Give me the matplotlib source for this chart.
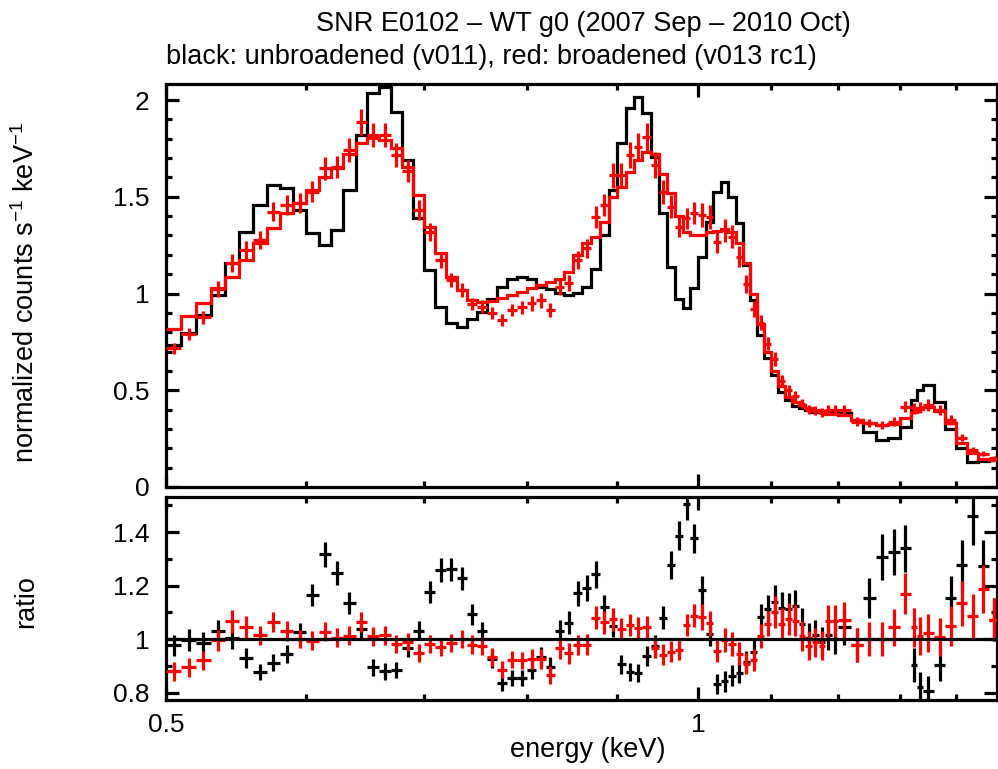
import numpy as np
import matplotlib
matplotlib.use("Agg")
import matplotlib.pyplot as plt
from matplotlib.ticker import FixedLocator, NullFormatter

# energy bin edges (keV)
bin_edges = [0.50, 0.51, 0.52, 0.53, 0.54, 0.55, 0.56, 0.57, 0.58, 0.59,
             0.60, 0.61, 0.62, 0.63, 0.64, 0.65, 0.66, 0.67, 0.68, 0.69,
             0.70, 0.71, 0.72, 0.73, 0.74, 0.75, 0.76, 0.77, 0.78, 0.79,
             0.80, 0.81, 0.82, 0.83, 0.84, 0.85, 0.86, 0.87, 0.88, 0.89,
             0.90, 0.91, 0.92, 0.93, 0.94, 0.95, 0.96, 0.97, 0.98, 0.99,
             1.00, 1.01, 1.02, 1.03, 1.04, 1.05, 1.06, 1.07, 1.08, 1.09,
             1.10, 1.11, 1.12, 1.13, 1.14, 1.15, 1.16, 1.17, 1.18, 1.19,
             1.20, 1.22, 1.24, 1.26, 1.28, 1.30, 1.32, 1.33, 1.34, 1.36,
             1.38, 1.40, 1.42, 1.44, 1.46, 1.48]

# observed spectrum (normalized counts s^-1 keV^-1)
data_counts = [0.717, 0.791, 0.877, 1.022, 1.159, 1.225, 1.277, 1.423, 1.457, 1.469,
               1.526, 1.647, 1.655, 1.742, 1.888, 1.819, 1.819, 1.716, 1.635, 1.432,
               1.320, 1.173, 1.070, 1.018, 0.946, 0.932, 0.898, 0.863, 0.915, 0.929,
               0.949, 0.966, 0.915, 1.035, 1.053, 1.173, 1.233, 1.397, 1.457, 1.612,
               1.612, 1.716, 1.759, 1.811, 1.664, 1.526, 1.449, 1.345, 1.388, 1.414,
               1.406, 1.397, 1.268, 1.328, 1.294, 1.190, 1.050, 0.920, 0.850, 0.740,
               0.660, 0.550, 0.500, 0.470, 0.430, 0.400, 0.395, 0.385, 0.400, 0.400,
               0.398, 0.338, 0.329, 0.320, 0.338, 0.415, 0.407, 0.410, 0.424, 0.398,
               0.346, 0.255, 0.190, 0.172, 0.150]

# fractional 1-sigma error on the data
data_rel_err = [0.04, 0.04, 0.04, 0.04, 0.04, 0.04, 0.035, 0.035, 0.035, 0.035,
                0.035, 0.035, 0.035, 0.035, 0.035, 0.035, 0.035, 0.035, 0.035, 0.035,
                0.035, 0.035, 0.035, 0.035, 0.035, 0.035, 0.035, 0.035, 0.035, 0.035,
                0.04, 0.04, 0.04, 0.04, 0.04, 0.04, 0.04, 0.04, 0.04, 0.04,
                0.04, 0.04, 0.04, 0.04, 0.04, 0.04, 0.04, 0.04, 0.04, 0.04,
                0.045, 0.045, 0.045, 0.045, 0.045, 0.045, 0.045, 0.045, 0.045, 0.045,
                0.055, 0.055, 0.055, 0.055, 0.055, 0.055, 0.055, 0.055, 0.055, 0.055,
                0.065, 0.065, 0.065, 0.065, 0.065, 0.065, 0.07, 0.07, 0.07, 0.07,
                0.07, 0.075, 0.075, 0.075, 0.075]

# model folded with the unbroadened response (v011)
black_model = [0.734, 0.794, 0.889, 0.992, 1.156, 1.320, 1.457, 1.561, 1.543, 1.432,
               1.311, 1.251, 1.328, 1.535, 1.819, 2.034, 2.069, 1.940, 1.690, 1.388,
               1.121, 0.932, 0.849, 0.829, 0.866, 0.906, 0.970, 1.035, 1.073, 1.087,
               1.073, 1.035, 1.022, 1.004, 0.992, 1.001, 1.035, 1.125, 1.302, 1.535,
               1.780, 1.957, 2.014, 1.935, 1.707, 1.414, 1.135, 0.970, 0.923, 1.027,
               1.190, 1.371, 1.526, 1.578, 1.500, 1.363, 1.147, 0.966, 0.786, 0.665,
               0.579, 0.493, 0.450, 0.419, 0.407, 0.398, 0.389, 0.389, 0.394, 0.400,
               0.381, 0.346, 0.285, 0.245, 0.255, 0.310, 0.450, 0.500, 0.527, 0.440,
               0.300, 0.200, 0.130, 0.135, 0.140]

# model folded with the broadened response (v013 rc1)
red_model = [0.815, 0.884, 0.953, 1.027, 1.087, 1.173, 1.259, 1.337, 1.414, 1.469,
             1.535, 1.604, 1.647, 1.721, 1.776, 1.802, 1.793, 1.750, 1.652, 1.509,
             1.345, 1.208, 1.087, 1.018, 0.966, 0.958, 0.963, 0.975, 0.992, 1.009,
             1.027, 1.044, 1.058, 1.073, 1.113, 1.200, 1.260, 1.294, 1.371, 1.500,
             1.552, 1.630, 1.690, 1.733, 1.720, 1.620, 1.520, 1.400, 1.320, 1.300,
             1.300, 1.320, 1.325, 1.332, 1.320, 1.259, 1.156, 1.000, 0.840, 0.700,
             0.600, 0.520, 0.465, 0.440, 0.425, 0.410, 0.400, 0.395, 0.375, 0.375,
             0.372, 0.346, 0.329, 0.320, 0.324, 0.355, 0.390, 0.405, 0.415, 0.395,
             0.330, 0.225, 0.175, 0.145, 0.140]

title = "SNR E0102 \u2013 WT g0 (2007 Sep \u2013 2010 Oct)"
subtitle = "black: unbroadened (v011), red: broadened (v013 rc1)"

plt.rcParams['font.family'] = ['Liberation Sans', 'DejaVu Sans']
plt.rcParams['mathtext.fontset'] = 'custom'
plt.rcParams['mathtext.rm'] = 'Liberation Sans'
plt.rcParams['mathtext.default'] = 'regular'
plt.rcParams['axes.linewidth'] = 2.3

FS = 19      # tick labels
FS_T = 19.5  # titles and axis labels
LW = 2.3

edges = np.array(bin_edges)
centers = 0.5 * (edges[:-1] + edges[1:])
half_w = 0.5 * np.diff(edges)
data = np.array(data_counts)
data_err = data * np.array(data_rel_err)
black = np.array(black_model)
red = np.array(red_model)

# ratio = data / model for each response
ratio_black = data / black
ratio_red = data / red
rel = np.array(data_rel_err)

W, H = 998, 769
fig = plt.figure(figsize=(W / 100, H / 100), dpi=100)
ax1 = fig.add_axes([166 / W, 1 - 487 / H, (997 - 166) / W, (487 - 84) / H])
ax2 = fig.add_axes([166 / W, 1 - 700 / H, (997 - 166) / W, (700 - 497) / H])

# top panel: spectrum and models
ax1.stairs(black, edges, color='black', lw=LW, baseline=None, zorder=2)
ax1.errorbar(centers, data, xerr=half_w, yerr=data_err, fmt='none',
             ecolor='red', elinewidth=LW, capsize=0, zorder=3)
ax1.stairs(red, edges, color='red', lw=LW, baseline=None, zorder=4)

# bottom panel: data / model
ax2.errorbar(centers, ratio_black, xerr=half_w, yerr=rel * ratio_black, fmt='none',
             ecolor='black', elinewidth=LW, capsize=0, zorder=2)
ax2.errorbar(centers, ratio_red, xerr=half_w, yerr=rel * ratio_red, fmt='none',
             ecolor='red', elinewidth=LW, capsize=0, zorder=3)
ax2.axhline(1.0, color='black', lw=LW, zorder=4)

for ax in (ax1, ax2):
    ax.set_xscale('log')
    ax.set_xlim(0.5, 1.476)
    ax.xaxis.set_major_locator(FixedLocator([0.5, 1.0]))
    ax.xaxis.set_minor_locator(FixedLocator([0.6, 0.7, 0.8, 0.9, 1.1, 1.2, 1.3, 1.4]))
    ax.xaxis.set_minor_formatter(NullFormatter())
    ax.tick_params(which='both', direction='in', top=True, right=True,
                   width=LW, labelsize=FS)
    ax.tick_params(which='major', length=9.5)
    ax.tick_params(which='minor', length=4.5)
    ax.tick_params(axis='y', pad=12)
    ax.tick_params(axis='x', pad=9)

ax1.set_ylim(0, 2.083)
ax1.set_yticks([0, 0.5, 1, 1.5, 2], labels=['0', '0.5', '1', '1.5', '2'])
ax1.yaxis.set_minor_locator(FixedLocator([0.1, 0.2, 0.3, 0.4, 0.6, 0.7, 0.8, 0.9,
                                          1.1, 1.2, 1.3, 1.4, 1.6, 1.7, 1.8, 1.9]))
ax1.tick_params(axis='x', labelbottom=False)

ax2.set_ylim(0.772, 1.531)
ax2.set_yticks([0.8, 1.0, 1.2, 1.4], labels=['0.8', '1', '1.2', '1.4'])
ax2.yaxis.set_minor_locator(FixedLocator([0.9, 1.1, 1.3, 1.5]))
ax2.set_xticks([0.5, 1.0], labels=['0.5', '1'])

# titles and axis labels
fig.text(583 / W, 1 - 24 / H, title, ha='center', va='center', fontsize=FS_T)
fig.text(166 / W, 1 - 57 / H, subtitle, ha='left', va='center', fontsize=FS_T)
fig.text(26 / W, 1 - 292 / H, 'normalized counts s$^{-1}$ keV$^{-1}$',
         rotation=90, ha='center', va='center', fontsize=FS_T)
fig.text(26 / W, 1 - 602 / H, 'ratio', rotation=90, ha='center', va='center',
         fontsize=FS_T)
fig.text(588 / W, 1 - 750 / H, 'energy (keV)', ha='center', va='center', fontsize=FS_T)

fig.savefig('out.png', dpi=100)
